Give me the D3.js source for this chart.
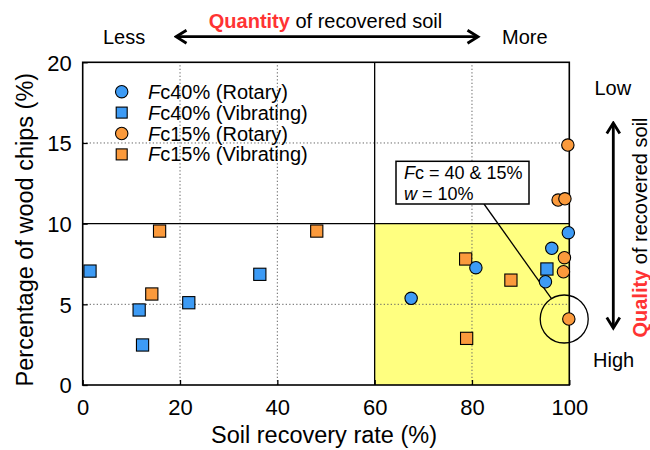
<!DOCTYPE html>
<html>
<head>
<meta charset="utf-8">
<script src="https://cdn.jsdelivr.net/npm/d3@7"></script>
<style>
  html, body { margin: 0; padding: 0; background: #fff; }
  svg { display: block; font-family: "Liberation Sans", Arial, Helvetica, sans-serif; }
</style>
</head>
<body>
<svg id="chart" width="650" height="450"></svg>
<script>
// Soil recovery rate (%) vs. percentage of wood chips (%)
const fc40Rotary    = [[99.8, 9.44], [96.4, 8.47], [80.8, 7.27], [95.1, 6.40], [67.5, 5.37]];
const fc40Vibrating = [[1.5, 7.06], [11.6, 4.65], [12.3, 2.48], [21.8, 5.10], [36.4, 6.86], [95.4, 7.19]];
const fc15Rotary    = [[99.7, 14.87], [97.7, 11.46], [99.1, 11.54], [99.0, 7.89], [98.8, 7.02], [99.9, 4.09]];
const fc15Vibrating = [[15.8, 9.54], [14.2, 5.64], [48.1, 9.54], [78.7, 7.81], [88.0, 6.50], [78.9, 2.89]];

const seriesNames  = ["40% (Rotary)", "40% (Vibrating)", "15% (Rotary)", "15% (Vibrating)"];
const xTicks = [0, 20, 40, 60, 80, 100];
const yTicks = [0, 5, 10, 15, 20];
const highlightPoint = [99.9, 4.09];   // Fc = 40 & 15%, w = 10%

const BLUE = "#3d9bf5", ORANGE = "#fb9a3c", YELLOW = "#ffff80", RED = "#ff3333";

const svg = d3.select("#chart");
const x = d3.scaleLinear().domain([0, 100]).range([82.7, 569.3]);
const y = d3.scaleLinear().domain([0, 20]).range([385, 62.3]);

// preferred region: high recovery, few wood chips
svg.append("rect")
  .attr("x", x(60)).attr("y", y(10))
  .attr("width", x(100) - x(60)).attr("height", y(0) - y(10))
  .attr("fill", YELLOW);

// dotted grid
const grid = svg.append("g").attr("stroke", "#666").attr("stroke-width", 1).attr("stroke-dasharray", "1.3,2.2");
grid.selectAll("line.gx").data([20, 40, 80]).join("line")
  .attr("x1", d => x(d)).attr("x2", d => x(d)).attr("y1", y(0)).attr("y2", y(20));
grid.selectAll("line.gy").data([5, 15]).join("line")
  .attr("y1", d => y(d)).attr("y2", d => y(d)).attr("x1", x(0)).attr("x2", x(100));

// quadrant dividers
svg.append("line").attr("x1", x(60)).attr("x2", x(60)).attr("y1", y(0)).attr("y2", y(20))
  .attr("stroke", "#000").attr("stroke-width", 1.3);
svg.append("line").attr("x1", x(0)).attr("x2", x(100)).attr("y1", y(10)).attr("y2", y(10))
  .attr("stroke", "#000").attr("stroke-width", 1.3);

// axes (inward ticks)
const xAxis = d3.axisBottom(x).tickValues(xTicks).tickSizeInner(-5).tickSizeOuter(0).tickPadding(12);
const yAxis = d3.axisLeft(y).tickValues(yTicks).tickSizeInner(-5).tickSizeOuter(0).tickPadding(11);
const gx = svg.append("g").attr("transform", `translate(0,${y(0)})`).call(xAxis);
const gy = svg.append("g").attr("transform", `translate(${x(0)},0)`).call(yAxis);
[gx, gy].forEach(g => {
  g.select(".domain").remove();
  g.selectAll("line").attr("stroke", "#000").attr("stroke-width", 1.3);
  g.selectAll("text").attr("font-size", 22).attr("fill", "#000")
    .attr("font-family", "'Liberation Sans', Arial, sans-serif");
});
gx.selectAll("text").attr("dy", null).attr("y", 30);
gy.selectAll("text").attr("dy", "0.36em");

// frame
svg.append("rect").attr("x", x(0)).attr("y", y(20))
  .attr("width", x(100) - x(0)).attr("height", y(0) - y(20))
  .attr("fill", "none").attr("stroke", "#000").attr("stroke-width", 1.6);

// axis titles
svg.append("text").attr("x", (x(0) + x(100)) / 2 - 2).attr("y", 443)
  .attr("text-anchor", "middle").attr("font-size", 23.5).text("Soil recovery rate (%)");
svg.append("text").attr("transform", `translate(33,${(y(0) + y(20)) / 2 + 6}) rotate(-90)`)
  .attr("text-anchor", "middle").attr("font-size", 23.5).text("Percentage of wood chips (%)");

// annotation: callout box, leader line and circle round the highlighted point
const hx = x(highlightPoint[0]) - 4.6, hy = y(highlightPoint[1]);
svg.append("circle").attr("cx", hx).attr("cy", hy).attr("r", 24)
  .attr("fill", "none").attr("stroke", "#000").attr("stroke-width", 1.3);
svg.append("line").attr("x1", 484).attr("y1", 204)
  .attr("x2", hx - 24 * Math.sin(0.56)).attr("y2", hy - 24 * Math.cos(0.56))
  .attr("stroke", "#000").attr("stroke-width", 1.3);
svg.append("rect").attr("x", 396).attr("y", 161.3).attr("width", 133).attr("height", 42.7)
  .attr("fill", "#fff").attr("stroke", "#000").attr("stroke-width", 1.5);
const ann1 = svg.append("text").attr("x", 404).attr("y", 179).attr("font-size", 18);
ann1.append("tspan").attr("font-style", "italic").text("F");
ann1.append("tspan").text("c = 40 & 15%");
const ann2 = svg.append("text").attr("x", 404).attr("y", 199.5).attr("font-size", 18);
ann2.append("tspan").attr("font-style", "italic").text("w");
ann2.append("tspan").text(" = 10%");

// markers
const SQ = 12.2, R = 6.2;
function circles(data, color) {
  svg.append("g").selectAll("circle").data(data).join("circle")
    .attr("cx", d => x(d[0])).attr("cy", d => y(d[1])).attr("r", R)
    .attr("fill", color).attr("stroke", "#000").attr("stroke-width", 1.1);
}
function squares(data, color) {
  svg.append("g").selectAll("rect").data(data).join("rect")
    .attr("x", d => x(d[0]) - SQ / 2).attr("y", d => y(d[1]) - SQ / 2)
    .attr("width", SQ).attr("height", SQ)
    .attr("fill", color).attr("stroke", "#000").attr("stroke-width", 1.1);
}
squares(fc40Vibrating, BLUE);
squares(fc15Vibrating, ORANGE);
circles(fc40Rotary, BLUE);
circles(fc15Rotary, ORANGE);

// legend
const legendItems = [
  { name: seriesNames[0], color: BLUE, shape: "circle" },
  { name: seriesNames[1], color: BLUE, shape: "square" },
  { name: seriesNames[2], color: ORANGE, shape: "circle" },
  { name: seriesNames[3], color: ORANGE, shape: "square" }
];
const lg = svg.append("g");
legendItems.forEach((it, i) => {
  const cy = 91.7 + i * 20.9;
  if (it.shape === "circle") {
    lg.append("circle").attr("cx", 121.7).attr("cy", cy).attr("r", R)
      .attr("fill", it.color).attr("stroke", "#000").attr("stroke-width", 1.1);
  } else {
    lg.append("rect").attr("x", 121.7 - 5.5).attr("y", cy - 5.5).attr("width", 11).attr("height", 11)
      .attr("fill", it.color).attr("stroke", "#000").attr("stroke-width", 1.1);
  }
  const t = lg.append("text").attr("x", 148).attr("y", cy + 7).attr("font-size", 20);
  t.append("tspan").attr("font-style", "italic").text("F");
  t.append("tspan").text("c" + it.name);
});

// arrow heads (open chevrons)
const defs = svg.append("defs");
defs.append("marker").attr("id", "head").attr("viewBox", "0 0 16 16")
  .attr("refX", 13.5).attr("refY", 8).attr("markerWidth", 16).attr("markerHeight", 16)
  .attr("markerUnits", "userSpaceOnUse").attr("orient", "auto-start-reverse")
  .append("path").attr("d", "M3,1.5 L13.5,8 L3,14.5").attr("fill", "none")
  .attr("stroke", "#000").attr("stroke-width", 2.8).attr("stroke-linejoin", "miter");

// quantity (top)
svg.append("line").attr("x1", 176).attr("x2", 478).attr("y1", 36.7).attr("y2", 36.7)
  .attr("stroke", "#000").attr("stroke-width", 2.8)
  .attr("marker-start", "url(#head)").attr("marker-end", "url(#head)");
const qt = svg.append("text").attr("x", 325.5).attr("y", 28).attr("text-anchor", "middle").attr("font-size", 20);
qt.append("tspan").attr("fill", RED).attr("font-weight", "bold").text("Quantity");
qt.append("tspan").attr("fill", "#000").text(" of recovered soil");
svg.append("text").attr("x", 103).attr("y", 43.5).attr("font-size", 20).text("Less");
svg.append("text").attr("x", 502).attr("y", 43.5).attr("font-size", 20).text("More");

// quality (right)
svg.append("line").attr("x1", 613.3).attr("x2", 613.3).attr("y1", 123).attr("y2", 328)
  .attr("stroke", "#000").attr("stroke-width", 2.8)
  .attr("marker-start", "url(#head)").attr("marker-end", "url(#head)");
const ql = svg.append("text").attr("transform", "translate(647,227.5) rotate(-90)")
  .attr("text-anchor", "middle").attr("font-size", 20);
ql.append("tspan").attr("fill", RED).attr("font-weight", "bold").text("Quality");
ql.append("tspan").attr("fill", "#000").text(" of recovered soil");
svg.append("text").attr("x", 594.5).attr("y", 95).attr("font-size", 20).text("Low");
svg.append("text").attr("x", 593).attr("y", 366.5).attr("font-size", 20).text("High");
</script>
</body>
</html>
